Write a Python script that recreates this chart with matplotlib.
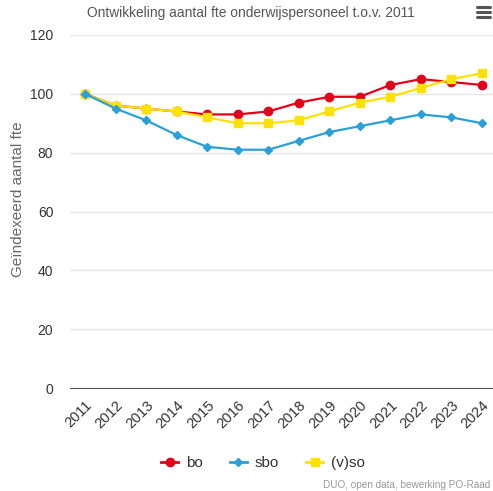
import matplotlib.pyplot as plt
import numpy as np
from matplotlib.lines import Line2D

plt.rcParams['font.family'] = ['Liberation Sans', 'DejaVu Sans']

years = [2011, 2012, 2013, 2014, 2015, 2016, 2017, 2018, 2019, 2020, 2021, 2022, 2023, 2024]
bo = [100, 96, 95, 94, 93, 93, 94, 97, 99, 99, 103, 105, 104, 103]
sbo = [100, 95, 91, 86, 82, 81, 81, 84, 87, 89, 91, 93, 92, 90]
vso = [100, 96, 95, 94, 92, 90, 90, 91, 94, 97, 99, 102, 105, 107]

c_bo = '#e2001a'
c_sbo = '#2b9fd8'
c_vso = '#ffe100'

fig = plt.figure(figsize=(4.93, 4.91), dpi=100)
ax = fig.add_axes([70 / 493, 1 - 388 / 491, 423 / 493, 353 / 491])

x = np.arange(len(years))
ax.plot(x, vso, color=c_vso, lw=1.6, marker='s', ms=5.5, zorder=3)
ax.plot(x, sbo, color=c_sbo, lw=1.6, marker='D', ms=4, zorder=4)
ax.plot(x, bo, color=c_bo, lw=1.6, marker='o', ms=6, zorder=2)

ax.set_xlim(-0.49, len(years) - 1 + 0.36)
ax.set_ylim(0, 120)
ax.set_yticks([0, 20, 40, 60, 80, 100, 120])
ax.set_xticks(x)
ax.set_xticklabels([str(y) for y in years], rotation=45, ha='right', rotation_mode='anchor',
                   fontsize=10.5, color='#333333')
ax.tick_params(axis='x', length=0, pad=7)
ax.tick_params(axis='y', length=0, pad=12, labelsize=10, labelcolor='#333333')
ax.grid(axis='y', color='#e6e6e6', lw=1)
ax.set_axisbelow(True)
for s in ['top', 'right', 'left']:
    ax.spines[s].set_visible(False)
ax.spines['bottom'].set_color('#555555')

fig.text(18 / 493, 1 - 199 / 491, 'Geïndexeerd aantal fte', rotation=90, ha='center', va='center',
         fontsize=11, color='#666666')

fig.text(251 / 493, 1 - 13 / 491, 'Ontwikkeling aantal fte onderwijspersoneel t.o.v. 2011',
         ha='center', va='center', fontsize=9.9, color='#555555')

# hamburger menu icon
for dy in [7, 12, 17]:
    fig.add_artist(Line2D([477 / 493, 490 / 493], [1 - dy / 491, 1 - dy / 491],
                          color='#555555', lw=2.2, solid_capstyle='round'))

handles = [
    Line2D([], [], color=c_bo, lw=2, marker='o', ms=6),
    Line2D([], [], color=c_sbo, lw=2, marker='D', ms=4),
    Line2D([], [], color=c_vso, lw=2, marker='s', ms=6),
]
fig.legend(handles, ['bo', 'sbo', '(v)so'], loc='center', bbox_to_anchor=(263 / 493, 1 - 463 / 491),
           ncol=3, frameon=False, fontsize=11, handlelength=1.1, columnspacing=1.8,
           handletextpad=0.5, labelcolor='#333333')

fig.text(490 / 493, 1 - 485 / 491, 'DUO, open data, bewerking PO-Raad', ha='right', va='center',
         fontsize=7.2, color='#999999')

fig.savefig('out.png', dpi=100)
